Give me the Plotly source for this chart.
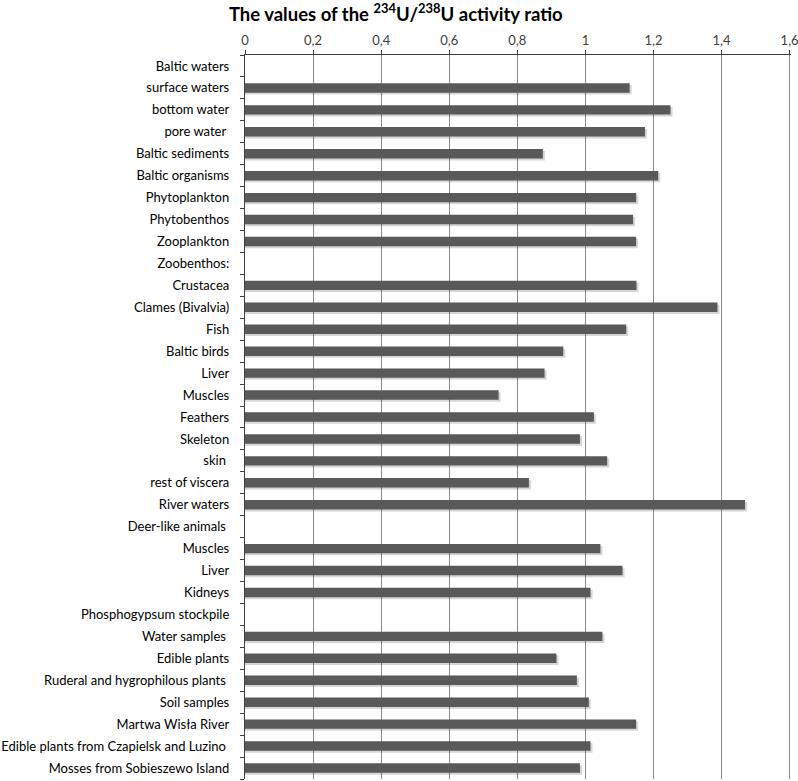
import plotly.graph_objects as go

categories = [
    "Baltic waters", "surface waters", "bottom water", "pore water ", "Baltic sediments",
    "Baltic organisms", "Phytoplankton", "Phytobenthos", "Zooplankton", "Zoobenthos:",
    "Crustacea", "Clames (Bivalvia)", "Fish", "Baltic birds", "Liver", "Muscles",
    "Feathers", "Skeleton", "skin ", "rest of viscera", "River waters",
    "Deer-like animals ", "Muscles", "Liver", "Kidneys", "Phosphogypsum stockpile",
    "Water samples ", "Edible plants", "Ruderal and hygrophilous plants ", "Soil samples",
    "Martwa Wisła River", "Edible plants from Czapielsk and Luzino ",
    "Mosses from Sobieszewo Island",
]
ratio_values = [
    None, 1.13, 1.25, 1.175, 0.875,
    1.214, 1.149, 1.14, 1.149, None,
    1.15, 1.388, 1.12, 0.935, 0.88, 0.745,
    1.025, 0.984, 1.064, 0.834, 1.469,
    None, 1.044, 1.109, 1.015, None,
    1.05, 0.915, 0.975, 1.01,
    1.149, 1.015,
    0.984,
]
x_tick_values = [0, 0.2, 0.4, 0.6, 0.8, 1.0, 1.2, 1.4, 1.6]
x_tick_labels = ["0", "0,2", "0,4", "0,6", "0,8", "1", "1,2", "1,4", "1,6"]

positions = list(range(len(categories)))
boundaries = [p - 0.5 for p in positions] + [positions[-1] + 0.5]

FONT = "Lato, 'Open Sans', sans-serif"
BAR_W = 0.43

fig = go.Figure()
# soft shadow
fig.add_trace(go.Bar(
    x=[(v + 0.006) if v is not None else None for v in ratio_values],
    y=positions, orientation="h", width=BAR_W, offset=-BAR_W / 2 + 0.09,
    marker=dict(color="rgba(0,0,0,0.16)", line=dict(width=0)),
    hoverinfo="skip", showlegend=False,
))
fig.add_trace(go.Bar(
    x=ratio_values, y=positions, orientation="h", width=BAR_W, offset=-BAR_W / 2,
    marker=dict(color="#595959", line=dict(width=0)),
    showlegend=False,
))
# invisible trace to carry the boundary tick axis
fig.add_trace(go.Scatter(x=[None], y=[None], yaxis="y2", showlegend=False, hoverinfo="skip"))

fig.update_layout(
    width=798, height=781,
    margin=dict(l=245, r=7, t=55, b=2, autoexpand=False),
    paper_bgcolor="white", plot_bgcolor="white",
    barmode="overlay",
    font=dict(family=FONT, color="#000000"),
    title=dict(
        text="<b>The values of the <sup>234</sup>U/<sup>238</sup>U activity ratio</b>",
        x=0.496, xref="container", xanchor="center", y=0.99, yanchor="top",
        font=dict(family=FONT, size=18.5, color="#000000"), automargin=False,
    ),
    xaxis=dict(
        side="top", range=[0, 1.604], tickvals=x_tick_values, ticktext=x_tick_labels,
        showgrid=True, gridcolor="#8c8c8c", gridwidth=1, zeroline=False,
        showline=True, linecolor="#404040", linewidth=1.3,
        ticks="outside", ticklen=4, tickcolor="#404040",
        tickfont=dict(family=FONT, size=13, color="#404040"),
        ticklabeloverflow="allow",
        automargin=False, fixedrange=True,
    ),
    yaxis=dict(
        range=[positions[-1] + 0.5, -0.5], tickvals=positions, ticktext=categories,
        showgrid=False, zeroline=False, showline=True, linecolor="#404040", linewidth=1.3,
        ticks="", ticklabelstandoff=12, automargin=False,
        tickfont=dict(family=FONT, size=13, color="#000000"),
    ),
    yaxis2=dict(
        overlaying="y", side="left", range=[positions[-1] + 0.5, -0.5],
        tickvals=boundaries, showticklabels=False, ticks="outside", ticklen=4,
        tickcolor="#404040", showgrid=False, zeroline=False, showline=False,
        automargin=False,
    ),
)

fig.write_html(
    "out.html",
    config={"displayModeBar": False},
    post_script="document.body.style.margin='0';document.body.style.overflow='hidden';",
)
